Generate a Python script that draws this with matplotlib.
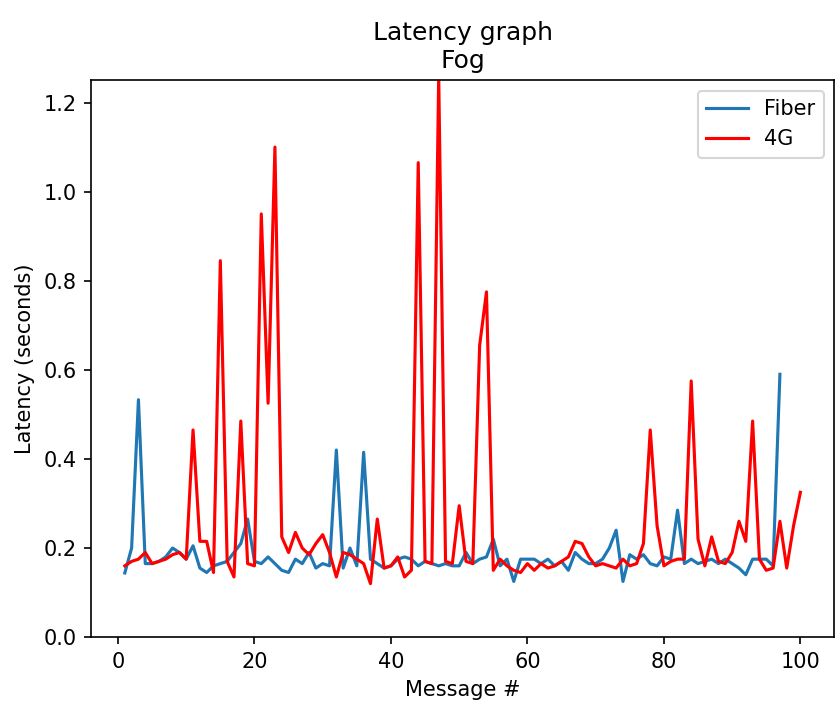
import numpy as np
import matplotlib
matplotlib.use("Agg")
import matplotlib.pyplot as plt

fiber = [0.144, 0.20, 0.533, 0.165, 0.165, 0.17, 0.18, 0.20, 0.19, 0.175,
         0.205, 0.155, 0.145, 0.16, 0.165, 0.17, 0.19, 0.21, 0.265, 0.17,
         0.165, 0.18, 0.165, 0.15, 0.145, 0.175, 0.165, 0.19, 0.155, 0.165,
         0.16, 0.42, 0.155, 0.20, 0.16, 0.415, 0.175, 0.165, 0.155, 0.16,
         0.175, 0.18, 0.175, 0.16, 0.17, 0.165, 0.16, 0.165, 0.16, 0.16,
         0.19, 0.165, 0.175, 0.18, 0.22, 0.16, 0.175, 0.125, 0.175, 0.175,
         0.175, 0.165, 0.175, 0.16, 0.17, 0.15, 0.19, 0.175, 0.165, 0.165,
         0.175, 0.20, 0.24, 0.125, 0.185, 0.175, 0.185, 0.165, 0.16, 0.18,
         0.175, 0.285, 0.165, 0.175, 0.165, 0.17, 0.175, 0.165, 0.175, 0.165,
         0.155, 0.14, 0.175, 0.175, 0.175, 0.16, 0.59]

lte = [0.16, 0.17, 0.175, 0.19, 0.165, 0.17, 0.175, 0.185, 0.19, 0.175,
       0.465, 0.215, 0.215, 0.145, 0.845, 0.17, 0.135, 0.485, 0.165, 0.16,
       0.95, 0.525, 1.10, 0.225, 0.19, 0.235, 0.20, 0.185, 0.21, 0.23,
       0.19, 0.135, 0.19, 0.185, 0.175, 0.165, 0.12, 0.265, 0.155, 0.16,
       0.18, 0.135, 0.15, 1.065, 0.17, 0.165, 1.26, 0.17, 0.165, 0.295,
       0.17, 0.165, 0.655, 0.775, 0.15, 0.175, 0.16, 0.15, 0.145, 0.165,
       0.15, 0.165, 0.155, 0.16, 0.17, 0.18, 0.215, 0.21, 0.18, 0.16,
       0.165, 0.16, 0.155, 0.175, 0.16, 0.165, 0.21, 0.465, 0.25, 0.16,
       0.17, 0.175, 0.175, 0.575, 0.22, 0.16, 0.225, 0.17, 0.165, 0.19,
       0.26, 0.215, 0.485, 0.175, 0.15, 0.155, 0.26, 0.155, 0.25, 0.325]

x_fiber = np.arange(1, len(fiber) + 1)
x_lte = np.arange(1, len(lte) + 1)

fig = plt.figure(figsize=(835 / 150, 704 / 150), dpi=150)
ax = fig.add_axes([0.109, 0.095, 0.89, 0.791])
ax.plot(x_fiber, fiber, label="Fiber")
ax.plot(x_lte, lte, color="red", label="4G")
ax.set_ylim(0, 1.25)
ax.set_title("Latency graph\nFog")
ax.set_xlabel("Message #")
ax.set_ylabel("Latency (seconds)")
ax.legend(loc="upper right")
fig.savefig("out.png")
